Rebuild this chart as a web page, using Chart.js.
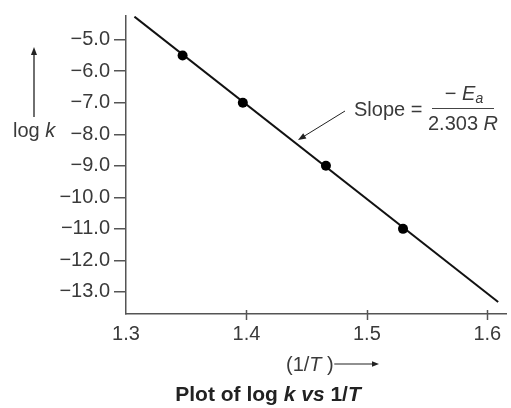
<!DOCTYPE html>
<html>
<head>
<meta charset="utf-8">
<script src="https://cdn.jsdelivr.net/npm/chart.js@4"></script>
<style>
  html, body { margin: 0; padding: 0; background: #fff; }
  #wrap { width: 511px; height: 408px; }
</style>
</head>
<body>
<div id="wrap"><canvas id="c" width="511" height="408"></canvas></div>
<script>
// ---- data ----
const invT = [1.347, 1.397, 1.466, 1.530];
const logK = [-5.5, -7.0, -9.0, -11.0];
const fitX = [1.307, 1.609];
const fitY = [-4.27, -13.32];
const xTicks = [1.3, 1.4, 1.5, 1.6];
const yTicks = [-5, -6, -7, -8, -9, -10, -11, -12, -13];

const FONT = '"Liberation Sans", Arial, Helvetica, sans-serif';
const TXT = '#3a3a3a';
const AX = '#555';

function arrow(ctx, x1, y1, x2, y2, head) {
  const a = Math.atan2(y2 - y1, x2 - x1);
  ctx.beginPath();
  ctx.moveTo(x1, y1);
  ctx.lineTo(x2 - Math.cos(a) * head * 0.8, y2 - Math.sin(a) * head * 0.8);
  ctx.stroke();
  ctx.beginPath();
  ctx.moveTo(x2, y2);
  ctx.lineTo(x2 - head * Math.cos(a) + head * 0.38 * Math.sin(a), y2 - head * Math.sin(a) - head * 0.38 * Math.cos(a));
  ctx.lineTo(x2 - head * Math.cos(a) - head * 0.38 * Math.sin(a), y2 - head * Math.sin(a) + head * 0.38 * Math.cos(a));
  ctx.closePath();
  ctx.fill();
}

function runs(ctx, x, y, parts) {
  for (const [t, f, dy] of parts) {
    ctx.font = f;
    ctx.fillText(t, x, y + (dy || 0));
    x += ctx.measureText(t).width;
  }
  return x;
}
function runsWidth(ctx, parts) {
  let w = 0;
  for (const [t, f] of parts) { ctx.font = f; w += ctx.measureText(t).width; }
  return w;
}

const annot = {
  id: 'annot',
  afterDraw(chart) {
    const ctx = chart.ctx;
    const xs = chart.scales.x;
    ctx.save();
    ctx.strokeStyle = AX;
    ctx.lineWidth = 1.5;
    const yb = chart.chartArea.bottom;
    xTicks.forEach((v, i) => {
      if (i === 0) return;
      const px = Math.round(xs.getPixelForValue(v)) + 0.5;
      ctx.beginPath();
      ctx.moveTo(px, yb - 4);
      ctx.lineTo(px, yb + 6);
      ctx.stroke();
    });

    ctx.fillStyle = TXT;
    ctx.strokeStyle = '#222';
    ctx.textBaseline = 'middle';
    ctx.textAlign = 'left';
    const R = '20px ' + FONT, I = 'italic 20px ' + FONT;

    ctx.lineWidth = 1.3;
    ctx.fillStyle = '#222';
    arrow(ctx, 34, 117, 34, 47, 8);
    ctx.fillStyle = TXT;
    runs(ctx, 13, 131, [['log ', R], ['k', I]]);

    const xEnd = runs(ctx, 286, 365, [['(1/', R], ['T', I], [' )', R]]);
    ctx.fillStyle = '#222';
    ctx.lineWidth = 1.2;
    arrow(ctx, xEnd + 0.5, 364, 379, 364, 7);

    ctx.fillStyle = TXT;
    runs(ctx, 354, 110, [['Slope =', R]]);
    ctx.strokeStyle = '#444';
    ctx.lineWidth = 1;
    ctx.beginPath(); ctx.moveTo(432, 108.5); ctx.lineTo(494, 108.5); ctx.stroke();
    const num = [['\u2212 ', R], ['E', I], ['a', 'italic 14px ' + FONT, 5]];
    runs(ctx, 464 - runsWidth(ctx, num) / 2, 94, num);
    const den = [['2.303 ', R], ['R', I]];
    runs(ctx, 463 - runsWidth(ctx, den) / 2, 124, den);
    ctx.strokeStyle = '#222';
    ctx.fillStyle = '#222';
    ctx.lineWidth = 1;
    arrow(ctx, 345, 111, 298, 140, 8);

    ctx.fillStyle = '#222';
    const B = 'bold 21px ' + FONT, BI = 'italic bold 21px ' + FONT;
    const cap = [['Plot of log ', B], ['k', BI], [' ', B], ['vs', BI], [' 1/', B], ['T', BI]];
    runs(ctx, 268 - runsWidth(ctx, cap) / 2, 395, cap);
    ctx.restore();
  }
};

const fmt = v => (v < 0 ? '\u2212' : '') + Math.abs(v).toFixed(1);

new Chart(document.getElementById('c'), {
  type: 'scatter',
  data: {
    datasets: [
      {
        data: fitX.map((x, i) => ({ x, y: fitY[i] })),
        showLine: true,
        borderColor: '#111',
        borderWidth: 2,
        pointRadius: 0,
        order: 2
      },
      {
        data: invT.map((x, i) => ({ x, y: logK[i] })),
        backgroundColor: '#000',
        borderColor: '#000',
        pointRadius: 5,
        borderWidth: 0,
        order: 1
      }
    ]
  },
  options: {
    responsive: false,
    animation: false,
    events: [],
    layout: { padding: { left: 0, top: 15, right: 1, bottom: 0 } },
    plugins: { legend: { display: false }, tooltip: { enabled: false }, title: { display: false } },
    scales: {
      x: {
        type: 'linear',
        min: 1.3,
        max: 1.6155,
        afterFit: s => { s.height = 94; },
        afterBuildTicks: s => { s.ticks = xTicks.map(v => ({ value: v })); },
        border: { display: true, color: AX, width: 1.5 },
        grid: { display: true, drawOnChartArea: false, drawTicks: true, tickLength: 6, color: 'rgba(0,0,0,0)' },
        ticks: { color: TXT, font: { family: FONT, size: 20 }, padding: 2, maxRotation: 0, autoSkip: false, callback: v => v.toFixed(1) }
      },
      y: {
        type: 'linear',
        min: -13.7,
        max: -4.25,
        afterFit: s => { s.width = 126; },
        afterBuildTicks: s => { s.ticks = yTicks.map(v => ({ value: v })); },
        border: { display: true, color: AX, width: 1.5 },
        grid: { display: true, drawOnChartArea: false, drawTicks: true, tickLength: 12, color: AX, lineWidth: 1.5 },
        ticks: { color: TXT, font: { family: FONT, size: 20 }, padding: 4, autoSkip: false, callback: fmt }
      }
    }
  },
  plugins: [annot]
});
</script>
</body>
</html>
